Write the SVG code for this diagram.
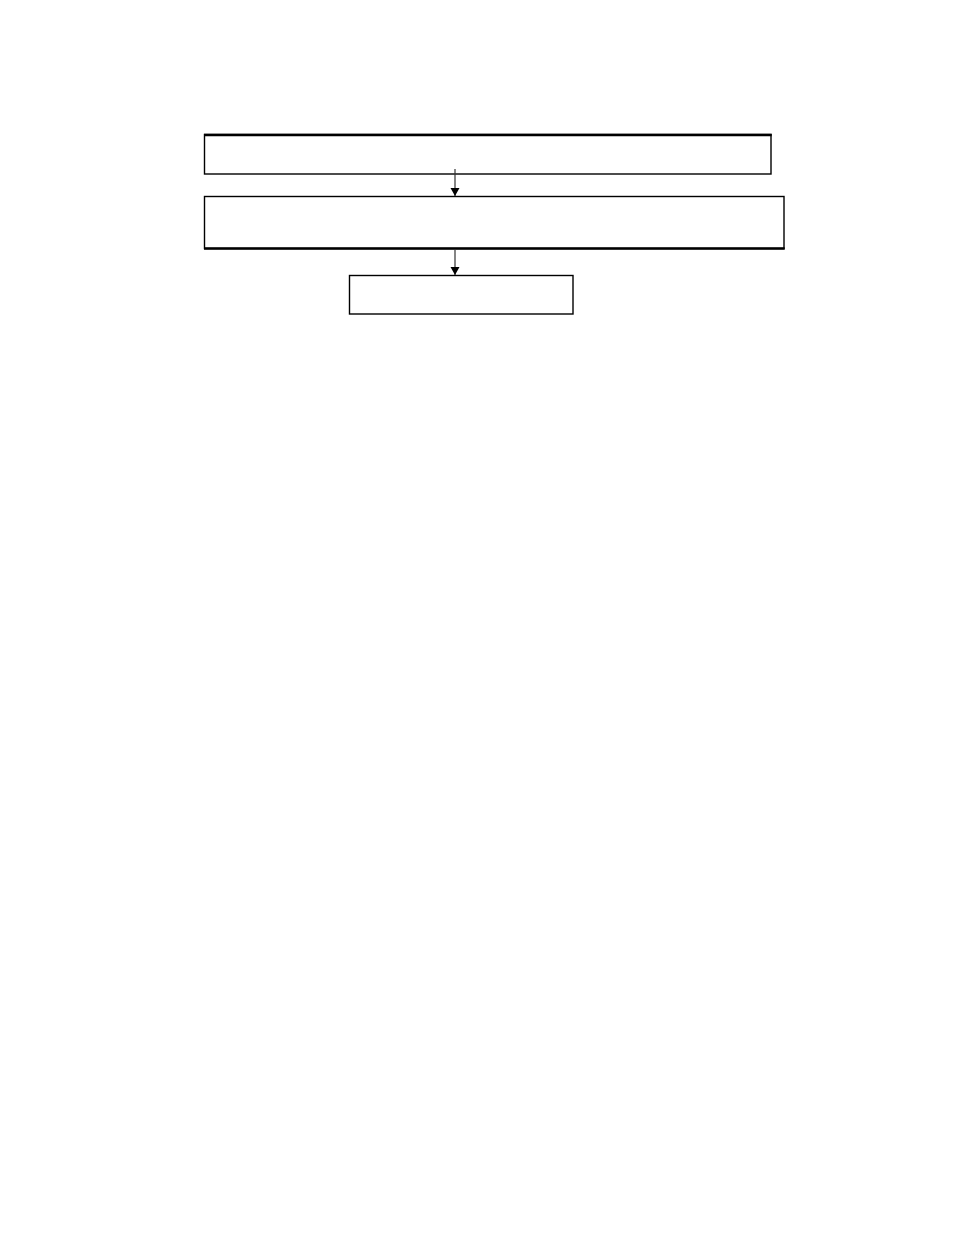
<svg xmlns="http://www.w3.org/2000/svg" width="954" height="1235" viewBox="0 0 954 1235">
<style>
.box{fill:#fff;stroke:#000;stroke-width:1.4}
.thick{stroke:#000;stroke-width:2.6}
.conn{stroke:#333;stroke-width:1.2;fill:none}
</style>
<defs>
<marker id="ah" markerUnits="userSpaceOnUse" markerWidth="10" markerHeight="10" refX="8" refY="4.5" orient="auto">
<path d="M0,0 L8,4.5 L0,9 Z" fill="#000"/>
</marker>
</defs>
<rect width="954" height="1235" fill="#fff"/>
<g id="node1">
<rect class="box" x="204.5" y="134.5" width="566.5" height="39.5"/>
<line class="thick" x1="204" y1="135" x2="771.7" y2="135"/>
</g>
<g id="node2">
<rect class="box" x="204.5" y="196.5" width="579.5" height="52"/>
<line class="thick" x1="204" y1="248.5" x2="784.7" y2="248.5"/>
</g>
<g id="node3">
<rect class="box" x="349.5" y="275.5" width="223.5" height="38.5"/>
</g>
<g id="connectors">
<line class="conn" x1="455" y1="169" x2="455" y2="196" marker-end="url(#ah)"/>
<line class="conn" x1="455" y1="250" x2="455" y2="275" marker-end="url(#ah)"/>
</g>
</svg>
